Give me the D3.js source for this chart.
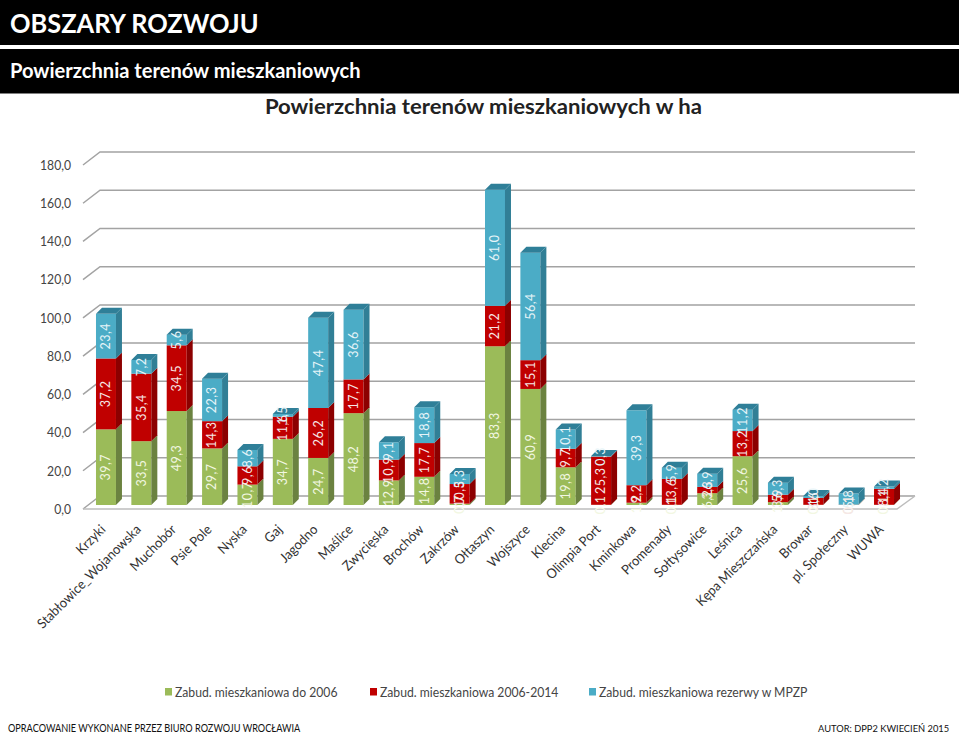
<!DOCTYPE html>
<html>
<head>
<meta charset="utf-8">
<script src="https://cdn.jsdelivr.net/npm/d3@7"></script>
<style>
  html, body { margin: 0; padding: 0; background: #fff; }
  svg { display: block; }
  text { font-family: Lato, "Open Sans", sans-serif; }
</style>
</head>
<body>
<div id="chart"></div>
<script>
const categories = ['Krzyki', 'Stabłowice_Wojanowska', 'Muchobór', 'Psie Pole', 'Nyska', 'Gaj', 'Jagodno', 'Maślice', 'Zwycięska', 'Brochów', 'Zakrzów', 'Ołtaszyn', 'Wojszyce', 'Klecina', 'Olimpia Port', 'Kminkowa', 'Promenady', 'Sołtysowice', 'Leśnica', 'Kępa Mieszczańska', 'Browar', 'pl. Społeczny', 'WUWA'];
const do2006 = [39.7, 33.5, 49.3, 29.7, 10.7, 34.7, 24.7, 48.2, 12.9, 14.8, 0.7, 83.3, 60.9, 19.8, 0.1, 1.2, 0.1, 6.2, 25.6, 1.5, 0.1, 0.1, 0.1];
const od2006do2014 = [37.2, 35.4, 34.5, 14.3, 9.6, 11.6, 26.2, 17.7, 10.9, 17.7, 10.3, 21.2, 15.1, 9.7, 25.3, 9.2, 13.6, 3.3, 13.2, 3.9, 3.6, 0.1, 8.4];
const rezerwy = [23.4, 7.2, 5.6, 22.3, 8.6, 1.5, 47.4, 36.6, 9.1, 18.8, 5.3, 61.0, 56.4, 10.1, 0.3, 39.3, 5.9, 6.9, 11.2, 6.3, 1.0, 5.8, 1.2];
const seriesNames = ['Zabud. mieszkaniowa do 2006', 'Zabud. mieszkaniowa 2006-2014', 'Zabud. mieszkaniowa rezerwy w MPZP'];
const yTicks = [0, 20, 40, 60, 80, 100, 120, 140, 160, 180];

const width = 959;
const height = 734;
const depthX = 6;
const depthY = 6;
const seriesValues = [do2006, od2006do2014, rezerwy];
const colors = [
  { front: '#9bbb59', side: '#6b8240', top: '#7f9a4a', label: '#f2f7e2' },
  { front: '#c00000', side: '#8c0000', top: '#9a0000', label: '#f6e6e6' },
  { front: '#4bacc6', side: '#317f96', top: '#2f7f98', label: '#e6f4f8' },
];
const fmt = (v) => v.toFixed(1).replace('.', ',');

// The reference font is narrower than Lato, so squeeze the text to its width
function squeeze(selection, k) {
  selection.each(function () {
    this.setAttribute('textLength', this.getComputedTextLength() * k);
    this.setAttribute('lengthAdjust', 'spacingAndGlyphs');
  });
}

const svg = d3
  .select('#chart')
  .append('svg')
  .attr('width', width)
  .attr('height', height);

// Header bars
svg.append('rect').attr('width', width).attr('height', 45).attr('fill', '#000');
svg.append('rect').attr('y', 49).attr('width', width).attr('height', 44.5).attr('fill', '#000');
svg.append('text').attr('x', 10).attr('y', 33).attr('fill', '#fff')
  .style('font-size', '27px').style('font-weight', 700).text('OBSZARY ROZWOJU')
  .call(squeeze, 0.94);
svg.append('text').attr('x', 10).attr('y', 78).attr('fill', '#fff')
  .style('font-size', '20.5px').style('font-weight', 700).text('Powierzchnia terenów mieszkaniowych')
  .call(squeeze, 0.98);
svg.append('text').attr('x', 483.5).attr('y', 114).attr('fill', '#222').attr('text-anchor', 'middle')
  .style('font-size', '21px').style('font-weight', 700).text('Powierzchnia terenów mieszkaniowych  w ha')
  .call(squeeze, 1.053);

// Scales
const x = d3.scaleBand().domain(categories).range([80.6, 909.4]).padding(0.435);
const y = d3.scaleLinear().domain([0, 180]).range([505, 162]);
const yBack = d3.scaleLinear().domain([0, 180]).range([496, 152]);
const yAxisScale = d3.scaleLinear().domain([0, 180]).range([509, 165]);

// Walls and floor
const grid = svg.append('g').attr('fill', 'none').attr('stroke', '#a3a3a3').attr('stroke-width', 1.5);
yTicks.forEach((t) => {
  grid.append('path')
    .attr('d', `M83,${yAxisScale(t)}L100,${yBack(t)}H915`);
});
grid.append('path')
  .attr('d', `M83,${yAxisScale(0)}H897L915,${yBack(0)}`)
  .attr('stroke', '#bdbdbd');

// Y axis labels
const yAxis = svg
  .append('g')
  .attr('transform', 'translate(77,0)')
  .call(d3.axisLeft(yAxisScale).tickValues(yTicks).tickFormat(fmt).tickSize(0).tickPadding(6));
yAxis.select('.domain').remove();
yAxis.selectAll('text')
  .attr('fill', '#444')
  .style('font-size', '13.5px')
  .style('font-family', 'Lato, "Open Sans", sans-serif')
  .call(squeeze, 0.9);

// Stacked bars
const bars = svg
  .selectAll('.bar')
  .data(categories)
  .enter()
  .append('g')
  .attr('class', 'bar');

bars.each(function (cat, i) {
  const g = d3.select(this);
  const x0 = x(cat);
  const x1 = x0 + x.bandwidth();
  let sum = 0;
  seriesValues.forEach((values, s) => {
    const yBottom = y(sum);
    sum += values[i];
    const yTop = y(sum);
    g.append('rect')
      .attr('x', x0)
      .attr('y', yTop)
      .attr('width', x1 - x0)
      .attr('height', yBottom - yTop)
      .attr('fill', colors[s].front);
    g.append('polygon')
      .attr('points', [[x1, yBottom], [x1 + depthX, yBottom - depthY], [x1 + depthX, yTop - depthY], [x1, yTop]].join(' '))
      .attr('fill', colors[s].side);
    if (s === seriesValues.length - 1) {
      g.append('polygon')
        .attr('points', [[x0, yTop], [x0 + depthX, yTop - depthY], [x1 + depthX, yTop - depthY], [x1, yTop]].join(' '))
        .attr('fill', colors[s].top);
    }
  });
});

// Data labels go on top of all bars, they overlap like in the original
bars.each(function (cat, i) {
  const g = d3.select(this);
  const cx = x(cat) + x.bandwidth() / 2;
  let sum = 0;
  seriesValues.forEach((values, s) => {
    const mid = y(sum + values[i] / 2);
    sum += values[i];
    g.append('text')
      .attr('transform', `translate(${cx},${mid}) rotate(-90)`)
      .attr('text-anchor', 'middle')
      .attr('dy', '0.35em')
      .attr('fill', colors[s].label)
      .style('font-size', '12.5px')
      .style('letter-spacing', '0.5px')
      .text(fmt(values[i]));
  });
});

// Category labels
svg
  .selectAll('.cat')
  .data(categories)
  .enter()
  .append('text')
  .attr('class', 'cat')
  .attr('transform', (d) => `translate(${x(d) + x.bandwidth() / 2 - 3},527) rotate(-45)`)
  .attr('text-anchor', 'end')
  .attr('dy', '0.35em')
  .attr('fill', '#333')
  .style('font-size', '13.5px')
  .text((d) => d)
  .call(squeeze, 0.95);

// Legend
const legendX = [165, 370, 589];
seriesNames.forEach((name, s) => {
  svg.append('rect')
    .attr('x', legendX[s])
    .attr('y', 688)
    .attr('width', 7)
    .attr('height', 7.5)
    .attr('fill', colors[s].front);
  svg.append('text')
    .attr('x', legendX[s] + 10)
    .attr('y', 696.5)
    .attr('fill', '#444')
    .style('font-size', '14px')
    .text(name)
    .call(squeeze, 0.87);
});

// Footer
svg.append('text').attr('x', 8).attr('y', 731.5).attr('fill', '#111')
  .style('font-size', '11px').text('OPRACOWANIE WYKONANE PRZEZ BIURO ROZWOJU WROCŁAWIA')
  .call(squeeze, 0.834);
svg.append('text').attr('x', 818).attr('y', 731.5).attr('fill', '#111')
  .style('font-size', '9.8px').text('AUTOR: DPP2 KWIECIEŃ 2015')
  .call(squeeze, 0.95);
</script>
</body>
</html>
